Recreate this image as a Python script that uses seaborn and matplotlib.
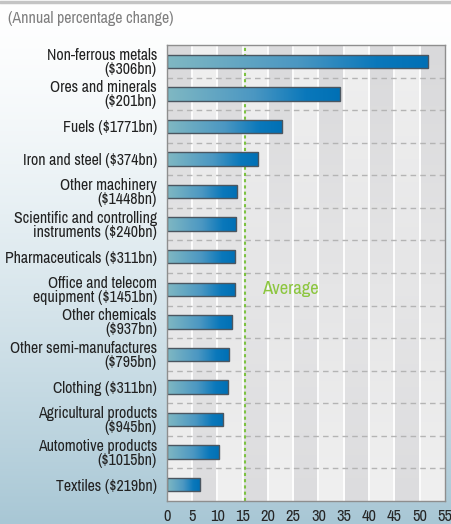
import numpy as np
import pandas as pd
import matplotlib
matplotlib.use("Agg")
import matplotlib.pyplot as plt
from matplotlib.colors import LinearSegmentedColormap, to_rgb
from matplotlib.lines import Line2D
import seaborn as sns

# Product groups with their export value, and annual percentage change
categories = [
    "Non-ferrous metals\n($306bn)",
    "Ores and minerals\n($201bn)",
    "Fuels ($1771bn)",
    "Iron and steel ($374bn)",
    "Other machinery\n($1448bn)",
    "Scientific and controlling\ninstruments ($240bn)",
    "Pharmaceuticals ($311bn)",
    "Office and telecom\nequipment ($1451bn)",
    "Other chemicals\n($937bn)",
    "Other semi-manufactures\n($795bn)",
    "Clothing ($311bn)",
    "Agricultural products\n($945bn)",
    "Automotive products\n($1015bn)",
    "Textiles ($219bn)",
]
changes = [51.7, 34.3, 22.8, 18.0, 13.8, 13.7, 13.5, 13.4, 13.0, 12.25, 12.05, 11.1, 10.3, 6.5]
average_change = 15.5
x_ticks = list(range(0, 60, 5))

sns.set_theme(style="white")
plt.rcParams["font.family"] = ["Archivo Narrow", "Liberation Sans", "DejaVu Sans"]
plt.rcParams["text.parse_math"] = False

W, H = 452, 524
fig = plt.figure(figsize=(W / 100, H / 100), dpi=100)
fig.patch.set_facecolor("white")

# Page background: white fading to pale blue at the bottom
bg_ax = fig.add_axes([0, 0, 1, 1], zorder=-10)
t = np.linspace(0, 1, 400) ** 1.4
top_c, bot_c = np.array(to_rgb("#ffffff")), np.array(to_rgb("#a8c7d5"))
grad = top_c[None, :] * (1 - t[:, None]) + bot_c[None, :] * t[:, None]
bg_ax.imshow(grad[:, None, :], aspect="auto", extent=[0, 1, 0, 1], origin="upper")
bg_ax.set_axis_off()

# Thin header rule
fig.add_artist(Line2D([0, 1], [1 - 1.5 / H, 1 - 1.5 / H], color="#c4c4c4", lw=2.5,
                      transform=fig.transFigure))

fig.text(8 / W, 1 - 19 / H, "(Annual percentage change)", fontsize=11.5,
         color="#7f7f7f", va="center", ha="left")

left, right, top, bottom = 166.7, 445, 45, 501
ax = fig.add_axes([left / W, 1 - bottom / H, (right - left) / W, (bottom - top) / H])

df = pd.DataFrame({"category": categories, "change": changes})
sns.barplot(data=df, x="change", y="category", orient="h", width=0.41,
            color="#0070b8", edgecolor="#4b5660", linewidth=1.0, ax=ax, zorder=5)

n = len(categories)
ax.set_xlim(0, 55)
ax.set_ylim(n - 0.5, -0.5)

# Alternating column shading with opposing vertical gradients
rows = 300
v = np.linspace(0, 1, rows)
col_a = np.array(to_rgb("#d9d9db"))[None, :] * (1 - v[:, None]) + np.array(to_rgb("#f0f0f0"))[None, :] * v[:, None]
col_b = np.array(to_rgb("#f0f0f0"))[None, :] * (1 - v[:, None]) + np.array(to_rgb("#dcdcde"))[None, :] * v[:, None]
cols = [col_a if i % 2 == 0 else col_b for i in range(11)]
stripes = np.stack(cols, axis=1)
ax.imshow(stripes, aspect="auto", extent=[0, 55, n - 0.5, -0.5], origin="upper",
          interpolation="nearest", zorder=0)

for xv in x_ticks[1:-1]:
    ax.axvline(xv, color="white", lw=1.3, zorder=1)
for yv in np.arange(0.5, n - 0.5, 1.0):
    ax.axhline(yv, color="#b4b4b4", lw=1.0, dashes=(4, 3), zorder=2)

ax.axvline(average_change, color="#7dc242", lw=1.5, dashes=(1.5, 1.5), zorder=3)
ax.text(18.8, 7.0, "Average", color="#8cc63f", fontsize=13.4, va="center", ha="left", zorder=4)

# Horizontal blue gradient inside each bar
bar_cmap = LinearSegmentedColormap.from_list(
    "bar", [(0.0, "#80b8c3"), (0.5, "#4b97c2"), (0.8, "#0a78bb"), (1.0, "#0070b5")])
gx = np.linspace(0, 1, 256)[None, :]
for p in ax.patches:
    x0, y0 = p.get_x(), p.get_y()
    w, h = p.get_width(), p.get_height()
    im = ax.imshow(gx, cmap=bar_cmap, aspect="auto", extent=[x0, x0 + w, y0 + h, y0],
                   origin="upper", zorder=4.5, interpolation="bilinear")
    im.set_clip_path(p)
    p.set_facecolor("none")

ax.set_xlim(0, 55)
ax.set_ylim(n - 0.5, -0.5)
ax.set_xticks(x_ticks)
ax.set_xticklabels([str(x) for x in x_ticks])
ax.set_xlabel("")
ax.set_ylabel("")
ax.tick_params(axis="x", length=0, pad=6, labelsize=11.8, labelcolor="#262626")
ax.tick_params(axis="y", length=0, pad=7, labelsize=11.4, labelcolor="#222222")
for lab in ax.get_yticklabels():
    lab.set_linespacing(0.92)
for s in ax.spines.values():
    s.set_visible(True)
    s.set_color("#8e8e8e")
    s.set_linewidth(1.0)
    s.set_zorder(6)

fig.savefig("out.png", dpi=100)
